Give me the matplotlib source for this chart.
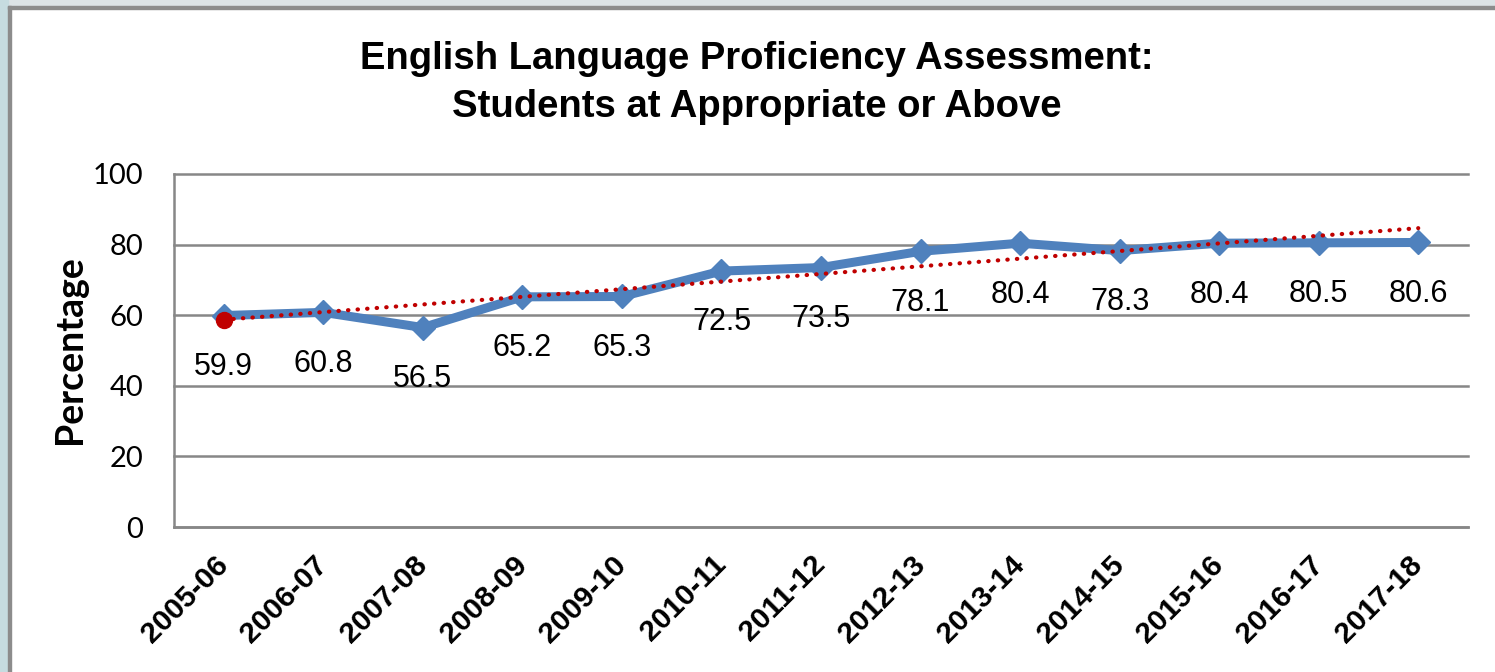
import numpy as np
import matplotlib
matplotlib.use('Agg')
import matplotlib.pyplot as plt
from matplotlib import font_manager
from matplotlib.patches import Rectangle


years = ['2005-06', '2006-07', '2007-08', '2008-09', '2009-10', '2010-11',
         '2011-12', '2012-13', '2013-14', '2014-15', '2015-16', '2016-17',
         '2017-18']
percent = [59.9, 60.8, 56.5, 65.2, 65.3, 72.5, 73.5, 78.1, 80.4, 78.3,
           80.4, 80.5, 80.6]
y_ticks = [0, 20, 40, 60, 80, 100]

BLUE = '#4F81BD'
RED = '#C00000'
GRID = '#878787'

installed = {f.name for f in font_manager.fontManager.ttflist}
if 'Liberation Sans Narrow' in installed:
    label_font, label_size = 'Liberation Sans Narrow', 25
else:
    label_font, label_size = 'Liberation Sans', 22


def main():
    W, H = 1495, 672
    fig = plt.figure(figsize=(W / 100, H / 100), dpi=100, facecolor='white')

    # slide-like frame around the chart
    fig.patches.append(Rectangle((0, 1 - 6 / H), 1, 6 / H, transform=fig.transFigure,
                                 color='#DCE3E6', zorder=0))
    fig.patches.append(Rectangle((0, 0), 8 / W, 1, transform=fig.transFigure,
                                 color='#C6DCE0', zorder=0))
    fig.patches.append(Rectangle((8 / W, 1 - 9 / H), 1, 3 / H, transform=fig.transFigure,
                                 color='#8C8C8C', zorder=1))
    fig.patches.append(Rectangle((8 / W, 0), 3 / W, 1 - 6 / H, transform=fig.transFigure,
                                 color='#8C8C8C', zorder=1))

    ax = fig.add_axes([174 / W, 1 - 527 / H, (1468 - 174) / W, (527 - 174) / H])
    x = np.arange(len(years))

    ax.plot(x, percent, color=BLUE, lw=6.5, marker='D', markersize=12.5,
            solid_joinstyle='round', zorder=3)

    # linear trendline
    slope, intercept = np.polyfit(x, percent, 1)
    trend = slope * x + intercept
    ax.plot(x, trend, color=RED, lw=3, linestyle=(0, (0.1, 2.2)),
            dash_capstyle='round', zorder=4)
    ax.plot(x[0], trend[0], 'o', color=RED, markersize=11.5, zorder=5)

    for xi, v in zip(x, percent):
        ax.annotate(f'{v}', (xi, v), xytext=(0, -37), textcoords='offset points',
                    ha='center', va='center', fontsize=label_size,
                    family=label_font, color='black', zorder=6)

    ax.set_xlim(-0.5, len(years) - 0.5)
    ax.set_ylim(0, 100)
    ax.set_yticks(y_ticks)
    ax.set_xticks(x)
    ax.set_xticklabels(years, rotation=45, ha='right', va='center',
                       rotation_mode='anchor', fontsize=21.5, fontweight='bold',
                       family='Liberation Sans')
    ax.tick_params(axis='x', length=0, pad=24)
    ax.tick_params(axis='y', length=0, pad=22, labelsize=21)
    for lab in ax.get_yticklabels():
        lab.set_family('Lato')

    ax.yaxis.grid(True, color=GRID, lw=1.8)
    for line in ax.get_ygridlines():
        line.set_clip_on(False)
    ax.set_axisbelow(True)
    for side in ['top', 'right']:
        ax.spines[side].set_visible(False)
    for side in ['left', 'bottom']:
        ax.spines[side].set_color(GRID)
        ax.spines[side].set_linewidth(1.8)

    fig.text(70 / W, 1 - 350 / H, 'Percentage', rotation=90, ha='center',
             va='center', fontsize=27, fontweight='bold', family='Lato')

    fig.text(757 / W, 1 - 69 / H, 'English Language Proficiency Assessment:',
             ha='center', va='baseline', fontsize=27.5, fontweight='bold',
             family='Liberation Sans')
    fig.text(757 / W, 1 - 117 / H, 'Students at Appropriate or Above',
             ha='center', va='baseline', fontsize=27.5, fontweight='bold',
             family='Liberation Sans')

    fig.savefig('out.png', dpi=100, facecolor=fig.get_facecolor())


if __name__ == '__main__':
    main()
